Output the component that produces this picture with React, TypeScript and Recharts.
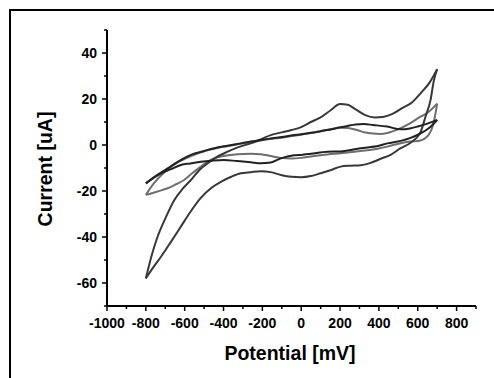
import { LineChart, Line, XAxis, YAxis } from "recharts";

// potential ticks (mV) and current ticks (uA), majors get a label
const potentialTicks = [-1000, -900, -800, -700, -600, -500, -400, -300, -200, -100, 0, 100, 200, 300, 400, 500, 600, 700, 800, 900];
const currentTicks = [-70, -60, -50, -40, -30, -20, -10, 0, 10, 20, 30, 40, 50];

// scan 1 (outer loop)
const scan1FwdMv = [-800, -770, -740, -700, -654, -610, -568, -520, -482, -440, -379, -320, -260, -200, -157, -100, -50, 0, 50, 100, 150, 200, 240, 280, 330, 380, 420, 470, 520, 570, 620, 660, 700];
const scan1FwdUa = [-58, -48, -40, -32, -24, -19, -15.2, -10.5, -8, -5.5, -2.9, -0.8, 0.7, 2.8, 4.3, 5.5, 6.5, 7.8, 10, 12, 15, 17.8, 17.5, 15.5, 13, 12, 12.2, 13.5, 16, 18.5, 23, 27, 33];
const scan1RevMv = [700, 683, 666, 640, 614, 563, 510, 460, 409, 350, 306, 250, 203, 150, 100, 50, 0, -50, -105, -157, -208, -260, -311, -360, -414, -460, -517, -570, -620, -670, -722, -760, -800];
const scan1RevUa = [33, 28, 19.6, 12.3, 5.5, 1, -1.5, -4.3, -6, -8, -8.8, -9, -9.4, -11, -12.3, -13.5, -14, -13.8, -13, -11.8, -11.4, -11.8, -12.3, -13.8, -16, -18.5, -23, -29, -35.5, -42, -48.6, -53, -58];

// scan 2 (grey)
const scan2FwdMv = [-800, -757, -700, -640, -568, -500, -448, -380, -311, -250, -208, -150, -100, -37, 0, 50, 100, 150, 203, 240, 287, 330, 357, 409, 443, 512, 560, 614, 650, 700];
const scan2FwdUa = [-21.7, -16.5, -11.5, -7.8, -4.8, -2.7, -1.6, -0.5, 0.5, 1.4, 2, 2.7, 3.2, 4, 4.5, 5.2, 6, 6.8, 7.5, 7.4, 6.5, 5.4, 5.1, 4.8, 5.2, 7.3, 9.4, 12.3, 14, 18];
const scan2RevMv = [700, 680, 657, 614, 560, 512, 443, 400, 306, 203, 135, 50, 0, -50, -105, -157, -208, -260, -328, -400, -448, -482, -517, -560, -603, -650, -688, -740, -800];
const scan2RevUa = [18, 9, 4.5, 2, 1.5, 0.8, -0.7, -1.5, -2.6, -3.6, -4.1, -5, -5.6, -5.9, -5.6, -4.8, -4, -3.8, -4, -4.8, -5.8, -7.2, -9.4, -12.2, -15.2, -17.3, -18.8, -20.2, -21.7];

// scan 3 (inner dark loop)
const scan3FwdMv = [-800, -750, -688, -630, -568, -500, -448, -380, -311, -260, -208, -150, -100, -37, 0, 50, 100, 135, 180, 238, 280, 323, 370, 443, 512, 560, 597, 650, 700];
const scan3FwdUa = [-16.7, -13.5, -10.2, -7, -4.3, -2.6, -1.4, -0.3, 0.7, 1.5, 2.2, 2.9, 3.5, 4.3, 4.7, 5.3, 6, 6.5, 7.3, 8.3, 8.9, 9.1, 8.7, 8, 6.8, 7.2, 8, 9.3, 10.9];
const scan3RevMv = [700, 660, 614, 560, 512, 443, 400, 306, 203, 135, 50, 0, -37, -105, -157, -208, -260, -330, -398, -460, -517, -570, -620, -670, -722, -760, -800];
const scan3RevUa = [10.9, 7.5, 5, 3, 1.8, 0.7, -0.3, -1.4, -2.8, -2.9, -3.8, -4.3, -4.5, -5.8, -7.6, -7.9, -7.5, -7, -6.5, -6.8, -7.3, -8, -8.7, -10.5, -12.3, -14.3, -16.7];

const pts = (xs: number[], ys: number[]) => xs.map((x, i) => ({ x, y: ys[i] }));

const branches = [
  { d: pts(scan2FwdMv, scan2FwdUa), c: "#6e6e6e" },
  { d: pts(scan2RevMv, scan2RevUa), c: "#6e6e6e" },
  { d: pts(scan1FwdMv, scan1FwdUa), c: "#383838" },
  { d: pts(scan1RevMv, scan1RevUa), c: "#383838" },
  { d: pts(scan3FwdMv, scan3FwdUa), c: "#222" },
  { d: pts(scan3RevMv, scan3RevUa), c: "#222" },
];

const font = "'Liberation Sans', Arial, sans-serif";

const YTick = ({ x, y, payload }: any) => {
  const major = payload.value % 20 === 0;
  return (
    <g>
      <line x1={x - (major ? 5 : 3)} x2={x} y1={y} y2={y} stroke="#000" strokeWidth={1.5} />
      {major && (
        <text x={x - 10} y={y} textAnchor="end" dominantBaseline="central" fontFamily={font} fontWeight="bold" fontSize={14} fill="#000">
          {payload.value}
        </text>
      )}
    </g>
  );
};

const XTick = ({ x, y, payload }: any) => {
  const major = payload.value % 200 === 0;
  return (
    <g>
      <line x1={x} x2={x} y1={y} y2={y + (major ? 5 : 3)} stroke="#000" strokeWidth={1.5} />
      {major && (
        <text x={x} y={y + 17} textAnchor="middle" dominantBaseline="central" fontFamily={font} fontWeight="bold" fontSize={14} fill="#000">
          {payload.value}
        </text>
      )}
    </g>
  );
};

export default function App() {
  return (
    <div style={{ position: "fixed", left: 0, top: 0, width: 494, height: 378, background: "#fff", overflow: "hidden" }}>
      <div style={{ position: "absolute", left: 0, top: 0 }}>
        <LineChart width={494} height={378} margin={{ top: 30, right: 18, bottom: 42, left: 47 }}>
          <XAxis
            type="number"
            dataKey="x"
            domain={[-1000, 900]}
            ticks={potentialTicks}
            interval={0}
            height={30}
            tickSize={0}
            tickMargin={0}
            axisLine={{ stroke: "#000", strokeWidth: 2 }}
            tickLine={false}
            tick={<XTick />}
            allowDataOverflow
          />
          <YAxis
            type="number"
            dataKey="y"
            domain={[-70, 50]}
            ticks={currentTicks}
            interval={0}
            width={60}
            tickSize={0}
            tickMargin={0}
            axisLine={{ stroke: "#000", strokeWidth: 2 }}
            tickLine={false}
            tick={<YTick />}
            allowDataOverflow
          />
          {branches.map((b, i) => (
            <Line
              key={i}
              data={b.d}
              dataKey="y"
              type="monotone"
              stroke={b.c}
              strokeWidth={2}
              dot={false}
              activeDot={false}
              isAnimationActive={false}
            />
          ))}
        </LineChart>
      </div>
      <svg width={494} height={378} style={{ position: "absolute", left: 0, top: 0, pointerEvents: "none" }}>
        <line x1={9} x2={494} y1={10} y2={10} stroke="#000" strokeWidth={2} />
        <line x1={10} x2={10} y1={9} y2={378} stroke="#000" strokeWidth={2} />
        <text x={290} y={353} textAnchor="middle" dominantBaseline="central" fontFamily={font} fontWeight="bold" fontSize={19.5} fill="#000">
          Potential [mV]
        </text>
        <text x={45} y={169} textAnchor="middle" dominantBaseline="central" fontFamily={font} fontWeight="bold" fontSize={19.5} fill="#000" transform="rotate(-90 45 169)">
          Current [uA]
        </text>
      </svg>
    </div>
  );
}
